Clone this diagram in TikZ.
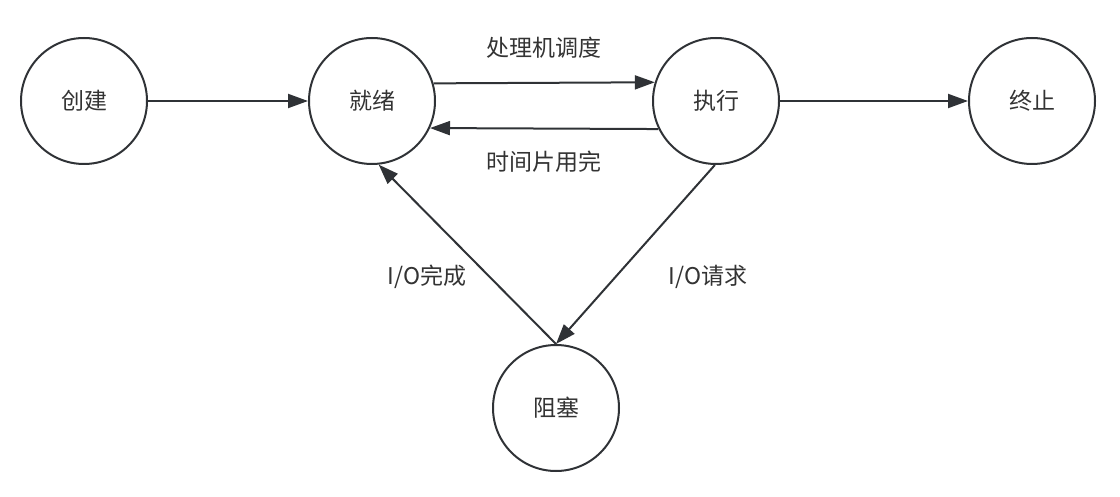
\documentclass[tikz,border=0pt]{standalone}
\usepackage{fontspec}
\setmainfont{Noto Sans CJK SC}
\usetikzlibrary{arrows.meta}
\definecolor{ln}{HTML}{2F3236}
\definecolor{tx}{HTML}{333333}
\begin{document}
\begin{tikzpicture}[x=1pt,y=-1pt,
  state/.style={circle,draw=ln,line width=2pt,minimum size=126pt,inner sep=0pt,text=tx,font=\fontsize{23}{26}\selectfont},
  lbl/.style={text=tx,font=\fontsize{23}{26}\selectfont,inner sep=0pt},
  conn/.style={draw=ln,line width=2pt,-{Triangle[length=20pt,width=14pt]}}]
\useasboundingbox (0,0) rectangle (1120,497);
\node[state] (cj) at (84,101) {创建};
\node[state] (jx) at (372,101) {就绪};
\node[state] (zx) at (716,101) {执行};
\node[state] (zz) at (1032,101) {终止};
\node[state] (zs) at (556,408) {阻塞};
\draw[conn] (cj) -- (jx);
\draw[conn] (jx.16.6) -- (zx.163.4);
\draw[conn] (zx.-154.6) -- (jx.-25.4);
\draw[conn] (zx) -- (zz);
\draw[conn] (zx.-91) -- (zs.north);
\draw[conn] (zs.north) -- (jx.-84);
\node[lbl] (l1) at (544,48) {处理机调度};
\node[lbl] (l2) at (544,162) {时间片用完};
\node[lbl] (l3) at (427,277) {I/O完成};
\node[lbl] (l4) at (708,277) {I/O请求};
\end{tikzpicture}
\end{document}
